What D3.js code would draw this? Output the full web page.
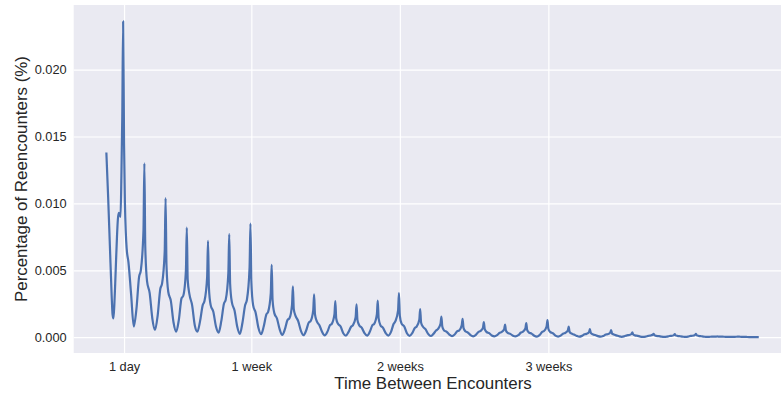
<!DOCTYPE html>
<html>
<head>
<meta charset="utf-8">
<script src="https://cdn.jsdelivr.net/npm/d3@7"></script>
<style>
    body { margin: 0; background: #fff; }
    svg { display: block; font-family: "Liberation Sans", Arial, sans-serif; }
</style>
</head>
<body>
<reencounter-chart></reencounter-chart>
<script>
// tick labels
const yTicks = [0, 0.005, 0.010, 0.015, 0.020];
const xTickHours = [24, 168, 336, 504];
const xTickLabels = ['1 day', '1 week', '2 weeks', '3 weeks'];

// first day, read point by point (hours since encounter, % of reencounters)
const firstDayHours = [4, 6, 8, 10, 11, 12, 13, 14, 15, 16, 17, 18, 19, 20, 21, 22, 23, 24, 25, 26, 27, 29, 32, 35];
const firstDayValues = [0.0138, 0.0105, 0.0068, 0.0031, 0.0017, 0.0014, 0.0024, 0.0040, 0.0058, 0.0075, 0.0088, 0.0093, 0.0092, 0.0090,
    0.0120, 0.0165, 0.0236, 0.0145, 0.0100, 0.0078, 0.0066, 0.0056, 0.0032, 0.0008];

// following days: hours relative to the daily peak (peak of day n is at hour 24n - 1)
const dayOffsets = [-9, -6, -4, -1, 0, 1, 3, 6, 9, 12];
const dailyValues = [
    [0.0021, 0.0045, 0.0050, 0.0080, 0.0130, 0.0068, 0.0042, 0.0033, 0.0014, 0.00054],      // day 2
    [0.0016, 0.0036, 0.0040, 0.0064, 0.0104, 0.0054, 0.0034, 0.0027, 0.0011, 0.00042],      // day 3
    [0.0013, 0.0029, 0.0031, 0.0050, 0.0082, 0.0043, 0.0032, 0.0024, 0.0009, 0.00042],      // day 4
    [0.0012, 0.0024, 0.0027, 0.0045, 0.0072, 0.0037, 0.0024, 0.0019, 0.0008, 0.00034],      // day 5
    [0.0012, 0.0025, 0.0028, 0.0048, 0.0077, 0.0040, 0.0026, 0.0020, 0.0008, 0.00025],      // day 6
    [0.0011, 0.0024, 0.0028, 0.0052, 0.0085, 0.0042, 0.0024, 0.0018, 0.0007, 0.00022],      // day 7
    [0.0008, 0.0017, 0.0019, 0.0033, 0.0054, 0.0028, 0.0018, 0.0014, 0.0006, 0.00017],      // day 8
    [0.0006, 0.0013, 0.0014, 0.0024, 0.0038, 0.0021, 0.0016, 0.0012, 0.0005, 0.00015],      // day 9
    [0.0005, 0.0011, 0.0012, 0.0020, 0.0032, 0.0017, 0.0012, 0.0009, 0.0004, 0.00013],      // day 10
    [0.0004, 0.0009, 0.0010, 0.0017, 0.0027, 0.0014, 0.0010, 0.0008, 0.0003, 0.00012],      // day 11
    [0.0004, 0.0008, 0.0009, 0.0015, 0.00246, 0.0013, 0.0009, 0.0007, 0.0003, 0.00012],     // day 12
    [0.0004, 0.0009, 0.0010, 0.0017, 0.00273, 0.0014, 0.0009, 0.0007, 0.0003, 0.00012],     // day 13
    [0.0004, 0.0010, 0.0012, 0.0020, 0.0033, 0.0016, 0.0010, 0.0008, 0.0003, 0.00010],      // day 14
    [0.0003, 0.0007, 0.0008, 0.0013, 0.0021, 0.0011, 0.0008, 0.0006, 0.00025, 0.00009],     // day 15
    [0.00025, 0.0005, 0.0006, 0.0010, 0.00154, 0.0008, 0.0005, 0.0004, 0.0002, 0.00008],    // day 16
    [0.0002, 0.00045, 0.0005, 0.0009, 0.00138, 0.0007, 0.00045, 0.00035, 0.00015, 0.00007], // day 17
    [0.00018, 0.0004, 0.00045, 0.0007, 0.00113, 0.0006, 0.0004, 0.0003, 0.00013, 0.00006],  // day 18
    [0.00015, 0.00033, 0.00038, 0.0006, 0.00095, 0.0005, 0.00033, 0.00025, 0.00011, 0.00006], // day 19
    [0.00015, 0.00035, 0.0004, 0.00065, 0.00106, 0.00055, 0.00035, 0.00027, 0.00011, 0.00005], // day 20
    [0.00016, 0.0004, 0.00046, 0.0008, 0.00128, 0.00063, 0.0004, 0.0003, 0.00012, 0.00005], // day 21
    [0.00012, 0.00028, 0.00032, 0.0005, 0.00079, 0.0004, 0.00028, 0.0002, 0.0001, 0.00004], // day 22
    [0.0001, 0.00022, 0.00025, 0.00038, 0.0006, 0.00032, 0.00022, 0.00016, 0.00008, 0.00004], // day 23
    [0.00009, 0.0002, 0.00022, 0.00034, 0.00053, 0.00028, 0.0002, 0.00014, 0.00007, 0.00003], // day 24
    [0.00007, 0.00014, 0.00016, 0.00024, 0.00036, 0.0002, 0.00014, 0.0001, 0.00005, 0.00003], // day 25
    [0.00005, 0.0001, 0.00012, 0.00018, 0.00026, 0.00015, 0.0001, 0.00008, 0.00004, 0.00002], // day 26
    [0.00004, 0.00009, 0.0001, 0.00016, 0.00024, 0.00014, 0.0001, 0.00007, 0.00004, 0.00002], // day 27
    [0.00004, 0.0001, 0.00011, 0.00018, 0.00026, 0.00014, 0.0001, 0.00007, 0.00004, 0.00002], // day 28
    [0.00003, 0.00004, 0.00005, 0.00005, 0.00006, 0.00005, 0.00004, 0.00004, 0.00003, 0.00002], // day 29
    [0.00002, 0.00003, 0.00003, 0.00004, 0.00004, 0.00004, 0.00003, 0.00003, 0.00002, 0.00001], // day 30
    [0.00001, 0.00001, 0.00001, 0.00001]                                                     // day 31 (ends)
];

class ReencounterChart extends HTMLElement {
    constructor() {
        super();

        this.width = 781;
        this.height = 396;
        // the plot area runs past the right edge of the picture
        this.left = 73.7;
        this.right = 792.3;
        this.top = 5;
        this.bottom = 353;

        this.svg = d3.select(this)
            .append('svg')
            .attr('width', this.width)
            .attr('height', this.height);
    }
    //----------------------------------------------------------------------------
    connectedCallback() {
        this.data = firstDayHours.map((h, i) => ({ hour: h, value: firstDayValues[i] }));

        dailyValues.forEach((row, i) => {
            const peakHour = 24 * (i + 2) - 1;
            row.forEach((v, j) => this.data.push({ hour: peakHour + dayOffsets[j], value: v }));
        });

        this.#scaling();
        this.#drawAxis();
        this.#drawLine();
        this.#drawLabels();
    }
    //----------------------------------------------------------------------------
    #scaling() {
        this.xScale = d3.scaleLinear()
            .domain([-32.95, 779.95])
            .range([this.left, this.right]);

        this.yScale = d3.scaleLinear()
            .domain([-0.00118, 0.02483])
            .range([this.bottom, this.top]);
    }
    //----------------------------------------------------------------------------
    #drawAxis() {
        this.svg.append('rect')
            .attr('x', this.left)
            .attr('y', this.top)
            .attr('width', this.right - this.left)
            .attr('height', this.bottom - this.top)
            .attr('fill', '#eaeaf2');

        // Y axis + horizontal grid
        const yAxis = d3.axisLeft(this.yScale)
            .tickValues(yTicks)
            .tickFormat(d3.format('.3f'))
            .tickSize(-(this.right - this.left))
            .tickPadding(7);

        this.svg.append('g')
            .attr('transform', `translate(${this.left}, 0)`)
            .call(yAxis)
            .call(g => g.select('.domain').remove());

        // X axis + vertical grid
        const xAxis = d3.axisBottom(this.xScale)
            .tickValues(xTickHours)
            .tickFormat((d, i) => xTickLabels[i])
            .tickSize(-(this.bottom - this.top))
            .tickPadding(9);

        this.svg.append('g')
            .attr('transform', `translate(0, ${this.bottom})`)
            .call(xAxis)
            .call(g => g.select('.domain').remove());

        this.svg.selectAll('.tick line')
            .attr('stroke', '#fff')
            .attr('stroke-width', 1.2);

        this.svg.selectAll('.tick text')
            .attr('fill', '#262626')
            .style('font-size', '12.8px');
    }
    //----------------------------------------------------------------------------
    #drawLine() {
        const line = d3.line()
            .curve(d3.curveMonotoneX)
            .x(d => this.xScale(d.hour))
            .y(d => this.yScale(d.value));

        this.svg.append('path')
            .attr('fill', 'none')
            .attr('stroke', '#4c72b0')
            .attr('stroke-width', 2.2)
            .attr('stroke-linejoin', 'round')
            .attr('d', line(this.data));
    }
    //----------------------------------------------------------------------------
    #drawLabels() {
        this.svg.append('text')
            .attr('x', (this.left + this.right) / 2)
            .attr('y', 389)
            .attr('text-anchor', 'middle')
            .attr('fill', '#262626')
            .style('font-size', '16.9px')
            .text('Time Between Encounters');

        this.svg.append('text')
            .attr('transform', `translate(26.5, ${(this.top + this.bottom) / 2}) rotate(-90)`)
            .attr('text-anchor', 'middle')
            .attr('fill', '#262626')
            .style('font-size', '16.9px')
            .text('Percentage of Reencounters (%)');
    }
    //----------------------------------------------------------------------------
    static define(tag = 'reencounter-chart') {
        customElements.define(tag, this);
    }
}

ReencounterChart.define();
</script>
</body>
</html>
